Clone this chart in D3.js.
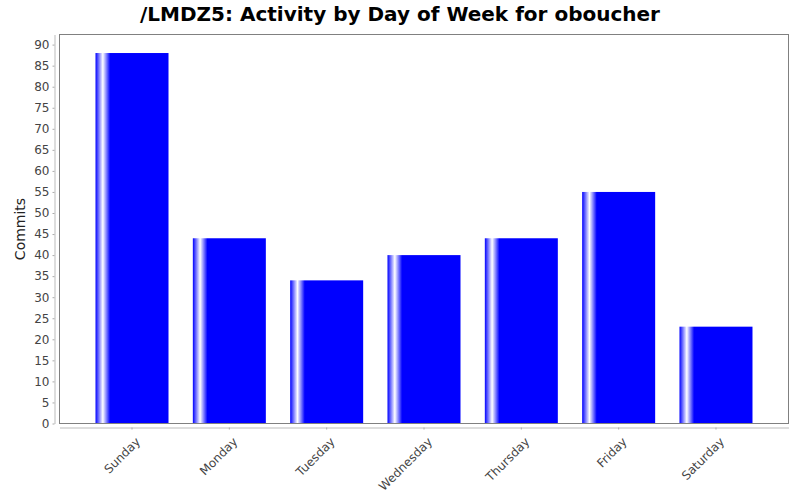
<!DOCTYPE html>
<html>
<head>
<meta charset="utf-8">
<script src="https://cdn.jsdelivr.net/npm/d3@7"></script>
<style>
  body { margin: 0; background: #fff; }
  text { font-family: "DejaVu Sans", sans-serif; }
  .tick text { fill: #444; font-size: 12px; }
</style>
</head>
<body>
<svg width="800" height="500"></svg>
<script>
      const days = ['Sunday', 'Monday', 'Tuesday', 'Wednesday', 'Thursday', 'Friday', 'Saturday'];
      const commits = [88, 44, 34, 40, 44, 55, 23];
      const yTickValues = [0, 5, 10, 15, 20, 25, 30, 35, 40, 45, 50, 55, 60, 65, 70, 75, 80, 85, 90];
      const title = '/LMDZ5: Activity by Day of Week for oboucher';
      const yLabel = 'Commits';

      const data = days.map((d, i) => ({ day: d, value: commits[i] }));

      const margin = { left: 59.5, right: 11.5, top: 34.5, bottom: 76.5 };
      const svg = d3.select('svg');
      const width = +svg.attr('width');
      const height = +svg.attr('height');
      const innerWidth = width - margin.left - margin.right;
      const innerHeight = height - margin.top - margin.bottom;

      // horizontal gradient like the java bar painter: blue > white > blue, then flat
      const grad = svg.append('defs').append('linearGradient')
          .attr('id', 'barGrad')
          .attr('x1', '0%').attr('x2', '100%')
          .attr('y1', '0%').attr('y2', '0%');
      grad.append('stop').attr('offset', '0%').attr('stop-color', '#0000ff');
      grad.append('stop').attr('offset', '10%').attr('stop-color', '#ffffff');
      grad.append('stop').attr('offset', '20%').attr('stop-color', '#0000ff');
      grad.append('stop').attr('offset', '100%').attr('stop-color', '#0000ff');

      svg.append('text')
          .attr('x', width / 2)
          .attr('y', 21)
          .attr('text-anchor', 'middle')
          .style('font-size', '20px')
          .style('font-weight', 'bold')
          .text(title);

      const g = svg.append('g')
          .attr('transform', `translate(${margin.left},${margin.top})`);

      const xScale = d3.scaleBand()
        .domain(days)
        .range([0, innerWidth])
        .paddingInner(0.25)
        .paddingOuter(0.37);

      const yScale = d3.scaleLinear()
        .domain([0, d3.max(commits) * 1.05])
        .range([innerHeight, 0]);

      g.append('rect')
          .attr('width', innerWidth)
          .attr('height', innerHeight)
          .attr('fill', '#fff');

      g.selectAll('.bar').data(data)
        .enter().append('rect')
          .attr('class', 'bar')
          .attr('x', d => xScale(d.day))
          .attr('y', d => yScale(d.value))
          .attr('width', xScale.bandwidth())
          .attr('height', d => innerHeight - yScale(d.value))
          .attr('fill', 'url(#barGrad)');

      g.append('rect')
          .attr('width', innerWidth)
          .attr('height', innerHeight)
          .attr('fill', 'none')
          .attr('stroke', '#808080');

      const yAxisG = g.append('g')
          .attr('transform', 'translate(-5,0)')
          .call(d3.axisLeft(yScale)
            .tickValues(yTickValues)
            .tickSize(2)
            .tickPadding(3)
            .tickSizeOuter(0));
      yAxisG.selectAll('.tick line').attr('stroke', '#aaa');
      yAxisG.select('.domain').attr('stroke', '#bbb');

      const xAxisG = g.append('g')
          .attr('transform', `translate(0,${innerHeight + 4})`)
          .call(d3.axisBottom(xScale)
            .tickSize(2)
            .tickSizeOuter(0));
      xAxisG.selectAll('.tick line').attr('stroke', '#aaa');
      xAxisG.select('.domain').attr('stroke', '#bbb');
      xAxisG.selectAll('.tick text')
          .attr('text-anchor', 'end')
          .attr('x', 0)
          .attr('y', 0)
          .attr('dy', '0.35em')
          .attr('transform', 'translate(6,12) rotate(-45)');

      svg.append('text')
          .attr('transform', `translate(25,${margin.top + innerHeight / 2}) rotate(-90)`)
          .attr('text-anchor', 'middle')
          .style('font-size', '14px')
          .style('fill', '#222')
          .text(yLabel);
</script>
</body>
</html>
